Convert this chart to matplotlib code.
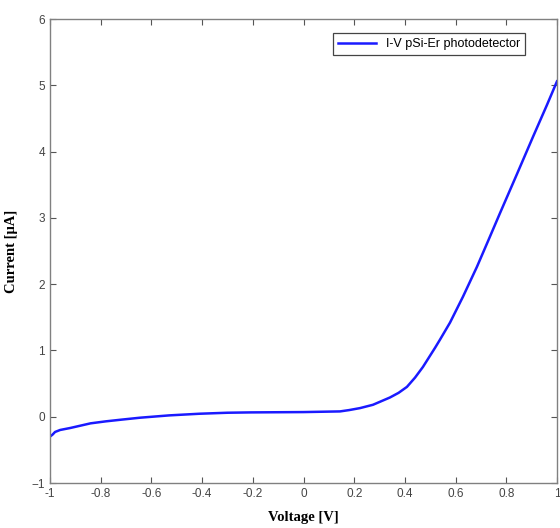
import numpy as np
import matplotlib
matplotlib.use('Agg')
import matplotlib.pyplot as plt

# I-V curve
voltage = [-1.0, -0.99, -0.98, -0.96, -0.92, -0.84, -0.78, -0.72, -0.645, -0.53,
           -0.41, -0.30, -0.21, 0.0, 0.144, 0.18, 0.223, 0.274, 0.341, 0.375, 0.408,
           0.44, 0.471, 0.519, 0.538, 0.578, 0.629, 0.684, 0.728, 0.775, 0.842,
           0.905, 0.96, 1.0]
current = [-0.30, -0.27, -0.23, -0.20, -0.17, -0.10, -0.07, -0.045, -0.015, 0.02,
           0.045, 0.06, 0.065, 0.07, 0.08, 0.10, 0.13, 0.18, 0.29, 0.36, 0.45,
           0.59, 0.75, 1.04, 1.16, 1.42, 1.81, 2.26, 2.65, 3.07, 3.66,
           4.22, 4.70, 5.06]

xticks = [-1, -0.8, -0.6, -0.4, -0.2, 0, 0.2, 0.4, 0.6, 0.8, 1]
xticklabels = ['-1', '-0.8', '-0.6', '-0.4', '-0.2', '0', '0.2', '0.4', '0.6', '0.8', '1']
yticks = [-1, 0, 1, 2, 3, 4, 5, 6]

fig = plt.figure(figsize=(5.6, 5.28), dpi=100)

ax = fig.add_axes([50/560, 45/528, 507/560, 464/528])

ax.plot(voltage, current, color='#1a1aff', lw=1.8, label='I-V pSi-Er photodetector')

ax.set_xlim(-1, 1)
ax.set_ylim(-1, 6)
ax.set_xticks(xticks)
ax.set_xticklabels(xticklabels)
ax.set_yticks(yticks)
ax.tick_params(direction='in', top=True, right=True, length=4, width=0.8,
               colors='#555555', labelsize=8.5, labelcolor='#444444')
for t in ax.get_xticklabels() + ax.get_yticklabels():
    t.set_family('Liberation Sans')
for s in ax.spines.values():
    s.set_color('#808080')
    s.set_linewidth(1.0)

ax.set_xlabel('Voltage [V]', family='Liberation Serif', fontweight='bold',
              fontsize=10.5, labelpad=8)
ax.set_ylabel('Current [\u03bcA]', family='Liberation Serif', fontweight='bold',
              fontsize=10.5, labelpad=10)

leg = ax.legend(loc='upper right', bbox_to_anchor=(0.942, 0.975), fancybox=False,
                framealpha=1, edgecolor='#444444', handlelength=3.0,
                borderaxespad=0.2, prop={'family': 'Liberation Sans', 'size': 9})
leg.get_frame().set_linewidth(0.9)

fig.savefig('out.png', dpi=100)
